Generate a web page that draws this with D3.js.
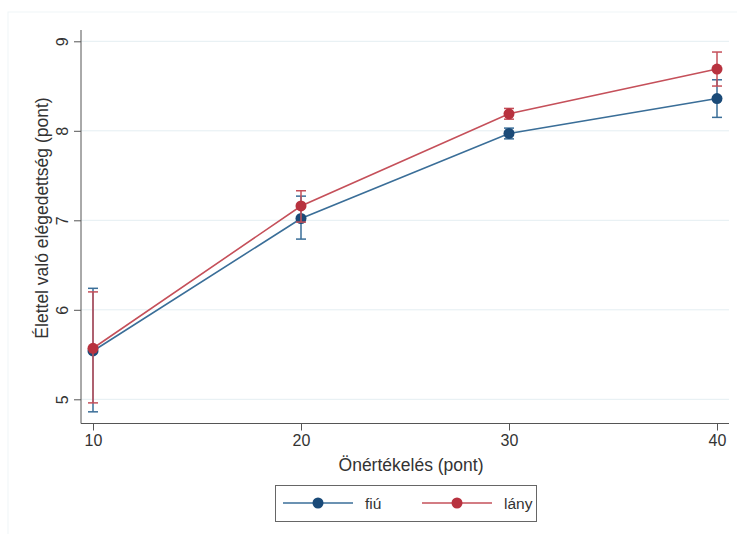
<!DOCTYPE html>
<html>
<head>
<meta charset="utf-8">
<script src="https://cdn.jsdelivr.net/npm/d3@7"></script>
<style>
  body { margin: 0; background: #fff; }
  text { font-family: "Liberation Sans", Arial, sans-serif; fill: #333; }
</style>
</head>
<body>
<script>
// data
var xValues = [10, 20, 30, 40];
var fiuMean = [5.54, 7.02, 7.97, 8.36];
var fiuLow  = [4.86, 6.79, 7.91, 8.15];
var fiuHigh = [6.24, 7.27, 8.03, 8.57];
var lanyMean = [5.57, 7.16, 8.19, 8.69];
var lanyLow  = [4.96, 6.98, 8.13, 8.50];
var lanyHigh = [6.20, 7.33, 8.25, 8.88];
var yTicks = [5, 6, 7, 8, 9];
var seriesNames = ['fiú', 'lány'];

var width = 737, height = 534;
var blue = '#1a4a78', red = '#b8323f';
var blueLine = '#3a6e98', redLine = '#c5505a';

var svg = d3.select('body').append('svg')
  .attr('width', width)
  .attr('height', height);

var x = d3.scaleLinear().domain([10, 40]).range([93, 717]);
var y = d3.scaleLinear().domain([5, 9]).range([399.3, 41.3]);

// faint outer frame
svg.append('rect')
  .attr('x', 8).attr('y', 12)
  .attr('width', 740).attr('height', 600)
  .attr('fill', 'none')
  .attr('stroke', '#f0f5f7');

// grid
svg.append('g')
  .selectAll('line')
  .data(yTicks)
  .enter()
  .append('line')
  .attr('x1', 81).attr('x2', 729)
  .attr('y1', function(d) { return y(d); })
  .attr('y2', function(d) { return y(d); })
  .attr('stroke', '#e4eef2')
  .attr('stroke-width', 1);

// axes
var yAxis = d3.axisLeft(y).tickValues(yTicks).tickFormat(d3.format('d'))
  .tickSize(7).tickPadding(5).tickSizeOuter(0);
var gy = svg.append('g')
  .attr('transform', 'translate(81,0)')
  .call(yAxis);
gy.select('.domain').remove();
gy.append('line')
  .attr('x1', 0).attr('x2', 0).attr('y1', 30).attr('y2', 423.5)
  .attr('stroke', '#555');
gy.selectAll('.tick line').attr('stroke', '#555');
gy.selectAll('.tick text')
  .attr('transform', 'rotate(-90)')
  .attr('x', 0).attr('y', -19)
  .attr('dy', '0.35em')
  .style('text-anchor', 'middle')
  .style('font-size', '16px')
  .style('fill', '#333');

var xAxis = d3.axisBottom(x).tickValues(xValues).tickFormat(d3.format('d'))
  .tickSize(7).tickPadding(4).tickSizeOuter(0);
var gx = svg.append('g')
  .attr('transform', 'translate(0,423.5)')
  .call(xAxis);
gx.select('.domain').remove();
gx.append('line')
  .attr('x1', 81).attr('x2', 729).attr('y1', 0).attr('y2', 0)
  .attr('stroke', '#555');
gx.selectAll('.tick line').attr('stroke', '#555');
gx.selectAll('.tick text')
  .style('font-size', '16px')
  .style('fill', '#333');

svg.append('text')
  .text('Önértékelés (pont)')
  .attr('x', 411).attr('y', 471)
  .style('text-anchor', 'middle')
  .style('font-size', '17.5px');

svg.append('text')
  .text('Élettel való elégedettség (pont)')
  .attr('transform', 'translate(48,218) rotate(-90)')
  .style('text-anchor', 'middle')
  .style('font-size', '17.5px');

function drawSeries(mean, low, high, col, lineCol) {
  var pts = xValues.map(function(v, i) {
    return {x: v, m: mean[i], lo: low[i], hi: high[i]};
  });
  var g = svg.append('g');
  g.append('path')
    .datum(pts)
    .attr('d', d3.line().x(function(d) { return x(d.x); }).y(function(d) { return y(d.m); }))
    .attr('fill', 'none')
    .attr('stroke', lineCol)
    .attr('stroke-width', 1.6);
  var eb = g.selectAll('.eb').data(pts).enter().append('g');
  eb.append('line')
    .attr('x1', function(d) { return x(d.x); })
    .attr('x2', function(d) { return x(d.x); })
    .attr('y1', function(d) { return y(d.lo); })
    .attr('y2', function(d) { return y(d.hi); })
    .attr('stroke', lineCol).attr('stroke-width', 1.5);
  ['lo', 'hi'].forEach(function(k) {
    eb.append('line')
      .attr('x1', function(d) { return x(d.x) - 5; })
      .attr('x2', function(d) { return x(d.x) + 5; })
      .attr('y1', function(d) { return y(d[k]); })
      .attr('y2', function(d) { return y(d[k]); })
      .attr('stroke', lineCol).attr('stroke-width', 1.5);
  });
  g.selectAll('circle').data(pts).enter().append('circle')
    .attr('cx', function(d) { return x(d.x); })
    .attr('cy', function(d) { return y(d.m); })
    .attr('r', 5.5)
    .attr('fill', col);
}

drawSeries(fiuMean, fiuLow, fiuHigh, blue, blueLine);
drawSeries(lanyMean, lanyLow, lanyHigh, red, redLine);

// legend
var lg = svg.append('g');
lg.append('rect')
  .attr('x', 275.5).attr('y', 485.5)
  .attr('width', 261).attr('height', 36)
  .attr('fill', '#fff')
  .attr('stroke', '#666');
var legendItems = [
  {name: seriesNames[0], x0: 283, col: blue, lc: blueLine},
  {name: seriesNames[1], x0: 422, col: red, lc: redLine}
];
legendItems.forEach(function(it) {
  lg.append('line')
    .attr('x1', it.x0).attr('x2', it.x0 + 70)
    .attr('y1', 503).attr('y2', 503)
    .attr('stroke', it.lc).attr('stroke-width', 1.6);
  lg.append('circle')
    .attr('cx', it.x0 + 35).attr('cy', 503).attr('r', 5.5)
    .attr('fill', it.col);
  lg.append('text')
    .text(it.name)
    .attr('x', it.x0 + 82).attr('y', 508.5)
    .style('font-size', '15.5px');
});
</script>
</body>
</html>
